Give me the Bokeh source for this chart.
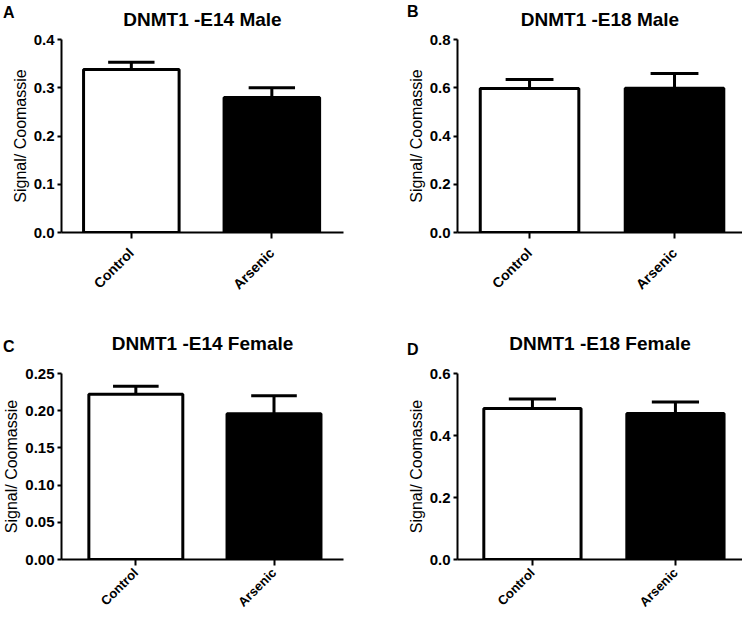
import math
from bokeh.plotting import figure
from bokeh.models import FixedTicker, NumeralTickFormatter, Div, GridBox
from bokeh.embed import file_html
from bokeh.resources import INLINE

# ---- data ----
groups = ["Control", "Arsenic"]
x_pos = [1, 2]
bar_fill = ["white", "black"]

titles = ["DNMT1 -E14 Male", "DNMT1 -E18 Male", "DNMT1 -E14 Female", "DNMT1 -E18 Female"]
letters = ["A", "B", "C", "D"]

e14_male_mean = [0.338, 0.280]
e14_male_sem = [0.015, 0.020]
e18_male_mean = [0.597, 0.598]
e18_male_sem = [0.037, 0.061]
e14_female_mean = [0.222, 0.196]
e14_female_sem = [0.011, 0.024]
e18_female_mean = [0.487, 0.471]
e18_female_sem = [0.031, 0.037]

y_max = [0.4, 0.8, 0.25, 0.6]
y_ticks = [[0, 0.1, 0.2, 0.3, 0.4],
           [0, 0.2, 0.4, 0.6, 0.8],
           [0, 0.05, 0.10, 0.15, 0.20, 0.25],
           [0, 0.2, 0.4, 0.6]]
tick_fmt = ["0.0", "0.0", "0.00", "0.0"]

FONT = "Liberation Sans"


def panel(i, mean, sem, width, height, x_range, borders, title_standoff, xlab_standoff, xlab_size):
    mbl, mbr, mbt, mbb = borders
    p = figure(width=width, height=height, x_range=x_range, y_range=(0, y_max[i]),
               output_backend="svg", toolbar_location=None,
               min_border_left=mbl, min_border_right=mbr,
               min_border_top=mbt, min_border_bottom=mbb)
    p.outline_line_color = None
    p.grid.visible = False
    p.background_fill_color = "white"
    p.border_fill_color = "white"

    p.title.text = titles[i]
    p.title.align = "center"
    p.title.vertical_align = "top"
    p.title.text_font = FONT
    p.title.text_font_size = "19px"
    p.title.text_font_style = "bold"
    p.title.text_color = "black"
    p.title.standoff = title_standoff

    tops = [m + s for m, s in zip(mean, sem)]
    p.segment(x0=x_pos, y0=mean, x1=x_pos, y1=tops, line_color="black", line_width=3)
    p.segment(x0=[x - 0.165 for x in x_pos], y0=tops, x1=[x + 0.165 for x in x_pos], y1=tops,
              line_color="black", line_width=3)
    p.vbar(x=x_pos, top=mean, bottom=0, width=0.68, fill_color=bar_fill,
           line_color="black", line_width=3)

    xa = p.xaxis[0]
    xa.ticker = FixedTicker(ticks=x_pos)
    xa.major_label_overrides = {x: g for x, g in zip(x_pos, groups)}
    xa.major_label_orientation = math.pi / 4
    xa.major_label_text_font = FONT
    xa.major_label_text_font_size = xlab_size
    xa.major_label_text_font_style = "bold"
    xa.major_label_text_color = "black"
    xa.major_label_standoff = xlab_standoff
    xa.major_tick_in = 0
    xa.major_tick_out = 6
    xa.minor_tick_line_color = None
    xa.axis_line_width = 2
    xa.major_tick_line_width = 2
    xa.axis_line_color = "black"
    xa.major_tick_line_color = "black"

    ya = p.yaxis[0]
    ya.ticker = FixedTicker(ticks=y_ticks[i])
    ya.formatter = NumeralTickFormatter(format=tick_fmt[i])
    ya.major_label_text_font = FONT
    ya.major_label_text_font_size = "15px"
    ya.major_label_text_font_style = "bold"
    ya.major_label_text_color = "black"
    ya.major_label_standoff = 3
    ya.major_tick_in = 0
    ya.major_tick_out = 4
    ya.minor_tick_line_color = None
    ya.axis_line_width = 2
    ya.major_tick_line_width = 2
    ya.axis_line_color = "black"
    ya.major_tick_line_color = "black"
    ya.axis_label = "Signal/ Coomassie"
    ya.axis_label_text_font = FONT
    ya.axis_label_text_font_size = "16px"
    ya.axis_label_text_font_style = "normal"
    ya.axis_label_text_color = "black"
    ya.axis_label_text_line_height = 1.0
    ya.axis_label_standoff = 2
    return p


def letter(i, top, left):
    html = ('<span style="font-family:\'Liberation Sans\';font-size:16px;'
            'font-weight:bold;color:black;line-height:1">%s</span>' % letters[i])
    return Div(text=html, width=20, height=20, margin=(top, 0, 0, left))


W1, W2 = 371, 371
H1, H2 = 310, 307

pa = panel(0, e14_male_mean, e14_male_sem, W1, H1, (0.503, 2.51), (48, 28, 39, 78), 15, 12, "14px")
pb = panel(1, e18_male_mean, e18_male_sem, W2, H1, (0.503, 2.469), (86, 0, 39, 78), 15, 12, "14px")
pc = panel(2, e14_female_mean, e14_female_sem, W1, H2, (0.462, 2.503), (53, 20, 63, 49), 36, 5, "13px")
pd = panel(3, e18_female_mean, e18_female_sem, W2, H2, (0.476, 2.469), (82, 0, 63, 49), 36, 5, "13px")

grid = GridBox(children=[(pa, 0, 0), (pb, 0, 1), (pc, 1, 0), (pd, 1, 1),
                         (letter(0, 5, 3), 0, 0), (letter(1, 4, 36), 0, 1),
                         (letter(2, 29, 3), 1, 0), (letter(3, 32, 36), 1, 1)],
               spacing=0)

open("out.html", "w").write(file_html(grid, INLINE))
